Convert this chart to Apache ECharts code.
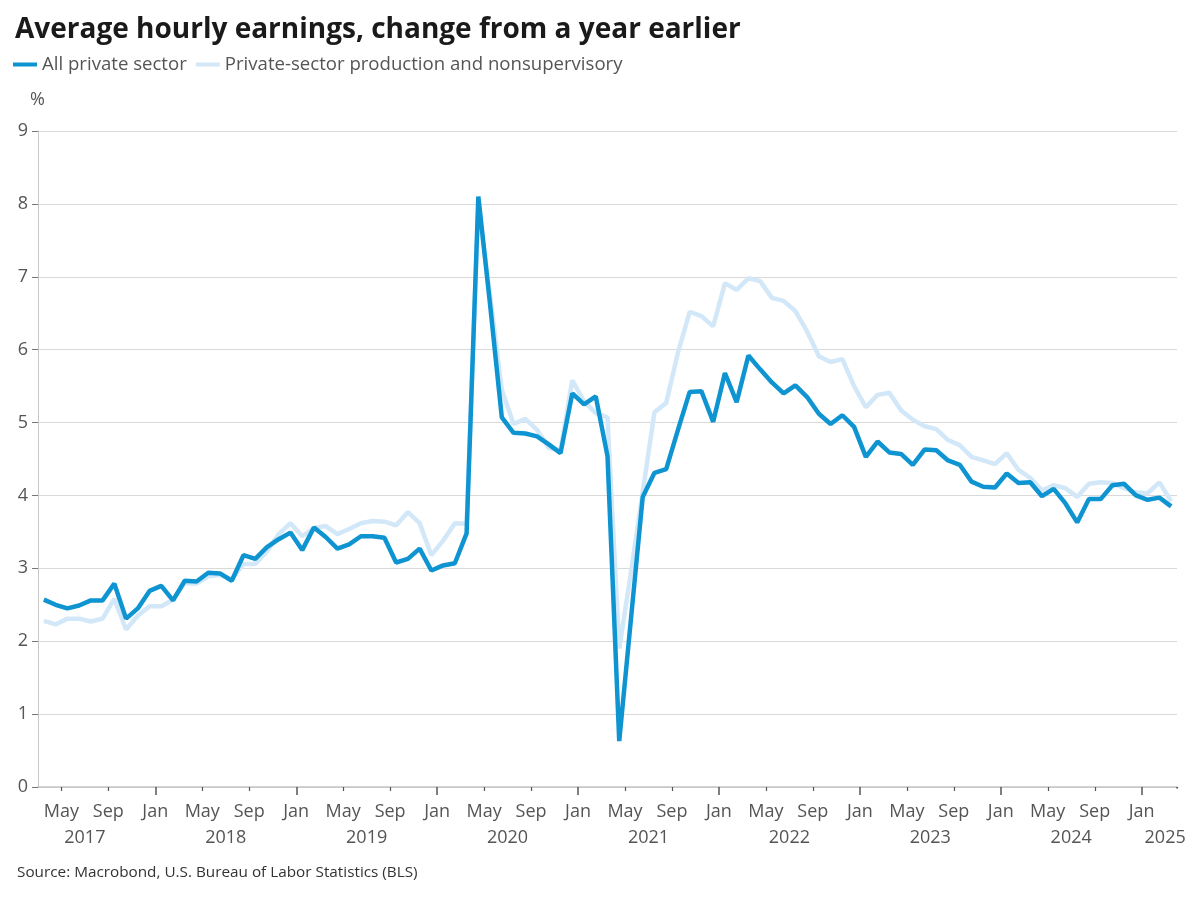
<!DOCTYPE html>
<html lang="en">
<head>
  <meta http-equiv="Content-Type" content="text/html; charset=UTF-8">
  <title>Average hourly earnings</title>
  <style>
    html, body { margin: 0; padding: 0; background: #fff; }
    #myChart { width: 1200px; height: 900px; }
  </style>
</head>
<body>
  <div id="myChart"></div>
  <script src="https://cdn.jsdelivr.net/npm/echarts@6.0.0/dist/echarts.min.js"></script>
  <script>
    // monthly categories, Mar 2017 .. Mar 2025
    const months = [];
    for (let y = 2017; y <= 2025; y++) {
      for (let m = 1; m <= 12; m++) {
        if ((y === 2017 && m < 3) || (y === 2025 && m > 3)) continue;
        months.push(y + '-' + (m < 10 ? '0' + m : m));
      }
    }

    const tickNames = { 1: 'Jan', 5: 'May', 9: 'Sep' };
    // year label sits mid-year; 2025 only has Jan-Mar so it goes on Mar
    const yearLabelAt = ['2017-07', '2018-07', '2019-07', '2020-07', '2021-07',
      '2022-07', '2023-07', '2024-07', '2025-03'];

    // All private sector, % y/y
    const allPrivate = [
      2.57, 2.50, 2.45, 2.49, 2.56, 2.56, 2.79, 2.31, 2.45, 2.69,
      2.76, 2.56, 2.83, 2.82, 2.94, 2.93, 2.83, 3.18, 3.13, 3.29, 3.40, 3.49,
      3.25, 3.56, 3.43, 3.27, 3.33, 3.44, 3.44, 3.42, 3.08, 3.13, 3.27, 2.97,
      3.04, 3.07, 3.48, 8.10, 6.62, 5.07, 4.86, 4.85, 4.81, 4.70, 4.58, 5.40,
      5.25, 5.36, 4.54, 0.63, 2.31, 3.98, 4.31, 4.36, 4.90, 5.42, 5.43, 5.01,
      5.68, 5.28, 5.92, 5.73, 5.55, 5.40, 5.51, 5.35, 5.12, 4.98, 5.10, 4.94,
      4.53, 4.74, 4.59, 4.57, 4.42, 4.63, 4.62, 4.48, 4.42, 4.19, 4.12, 4.11,
      4.30, 4.17, 4.18, 3.99, 4.09, 3.89, 3.63, 3.95, 3.95, 4.14, 4.16, 4.00,
      3.94, 3.97, 3.85
    ];

    // Private-sector production and nonsupervisory, % y/y
    const prodNonsup = [
      2.28, 2.23, 2.31, 2.31, 2.27, 2.31, 2.58, 2.16, 2.35, 2.48,
      2.48, 2.57, 2.80, 2.79, 2.89, 2.91, 2.85, 3.06, 3.06, 3.23, 3.47, 3.62,
      3.44, 3.55, 3.58, 3.47, 3.54, 3.62, 3.65, 3.64, 3.59, 3.77, 3.62, 3.18,
      3.38, 3.62, 3.61, 7.96, 6.75, 5.45, 4.98, 5.05, 4.90, 4.65, 4.62, 5.58,
      5.29, 5.13, 5.07, 1.90, 2.95, 4.05, 5.14, 5.27, 5.96, 6.52, 6.46, 6.32,
      6.91, 6.82, 6.98, 6.94, 6.71, 6.67, 6.53, 6.25, 5.91, 5.83, 5.87, 5.50,
      5.21, 5.38, 5.41, 5.17, 5.04, 4.95, 4.91, 4.76, 4.69, 4.53, 4.48, 4.43,
      4.58, 4.35, 4.24, 4.07, 4.14, 4.10, 3.98, 4.16, 4.18, 4.17, 4.10, 4.04,
      4.03, 4.18, 3.92
    ];

    const FONT = 'Open Sans';
    const monthOf = v => parseInt(String(v).slice(5), 10);

    const myChart = echarts.init(document.getElementById('myChart'));
    const option = {
      animation: false,
      textStyle: { fontFamily: FONT },
      title: {
        text: 'Average hourly earnings, change from a year earlier',
        left: 10,
        top: 11,
        textStyle: { fontFamily: FONT, fontSize: 28, fontWeight: 'bold', color: '#1a1a1a' }
      },
      legend: {
        left: 8,
        top: 50,
        icon: 'rect',
        itemWidth: 24,
        itemHeight: 4,
        itemGap: 9,
        textStyle: { fontFamily: FONT, fontSize: 18.6, color: '#555' },
        data: ['All private sector', 'Private-sector production and nonsupervisory']
      },
      grid: {
        left: 38,
        right: 23,
        top: 131,
        bottom: 113,
        containLabel: false,
        outerBoundsMode: 'none'
      },
      graphic: [
        {
          type: 'text', left: 30, top: 91,
          style: { text: '%', fontFamily: FONT, fontSize: 18, fill: '#555' }
        },
        {
          type: 'text', left: 17, top: 865,
          style: {
            text: 'Source: Macrobond, U.S. Bureau of Labor Statistics (BLS)',
            fontFamily: FONT, fontSize: 15.3, fill: '#333'
          }
        },
        // the category axis always adds a closing tick at the far end; the original has none
        {
          type: 'rect', left: 1175.5, top: 788.5, z: 100,
          shape: { width: 6, height: 12 },
          style: { fill: '#fff' }
        }
      ],
      xAxis: [
        {
          type: 'category',
          data: months,
          boundaryGap: true,
          position: 'bottom',
          axisLine: { lineStyle: { color: '#c4c4c4', width: 1.5 } },
          axisTick: {
            show: true,
            alignWithLabel: false,
            interval: (i, v) => monthOf(v) === 5 || monthOf(v) === 9,
            length: 4,
            lineStyle: { color: '#555', width: 1.2 }
          },
          splitLine: { show: false },
          axisLabel: {
            interval: (i, v) => !!tickNames[monthOf(v)],
            formatter: v => tickNames[monthOf(v)],
            margin: 11,
            padding: [0, 12, 0, 0],
            fontFamily: FONT,
            fontSize: 18,
            color: '#555',
            lineHeight: 28
          }
        },
        {
          type: 'category',
          data: months,
          boundaryGap: true,
          position: 'bottom',
          axisLine: { show: false },
          axisTick: {
            show: true,
            alignWithLabel: false,
            interval: (i, v) => monthOf(v) === 1,
            length: 8,
            lineStyle: { color: '#555', width: 1.5 }
          },
          axisLabel: {
            interval: (i, v) => yearLabelAt.indexOf(v) >= 0,
            formatter: v => v.slice(0, 4),
            margin: 37,
            padding: [0, 12, 0, 0],
            fontFamily: FONT,
            fontSize: 18,
            color: '#555',
            lineHeight: 28
          },
          splitLine: { show: false }
        }
      ],
      yAxis: {
        type: 'value',
        min: 0,
        max: 9,
        interval: 1,
        axisLine: { show: true, lineStyle: { color: '#c8c8c8' } },
        axisTick: { show: true, length: 6, lineStyle: { color: '#777' } },
        axisLabel: { fontFamily: FONT, fontSize: 18, color: '#555', margin: 10 },
        splitLine: { lineStyle: { color: '#d9d9d9', width: 1.2 } }
      },
      series: [
        {
          name: 'All private sector',
          type: 'line',
          data: allPrivate,
          symbol: 'none',
          z: 4,
          lineStyle: { color: '#0f94d2', width: 4.5 },
          itemStyle: { color: '#0f94d2' }
        },
        {
          name: 'Private-sector production and nonsupervisory',
          type: 'line',
          data: prodNonsup,
          symbol: 'none',
          z: 3,
          lineStyle: { color: '#d2e7f7', width: 4.5 },
          itemStyle: { color: '#d2e7f7' }
        }
      ]
    };
    myChart.setOption(option);
  </script>
</body>
</html>
